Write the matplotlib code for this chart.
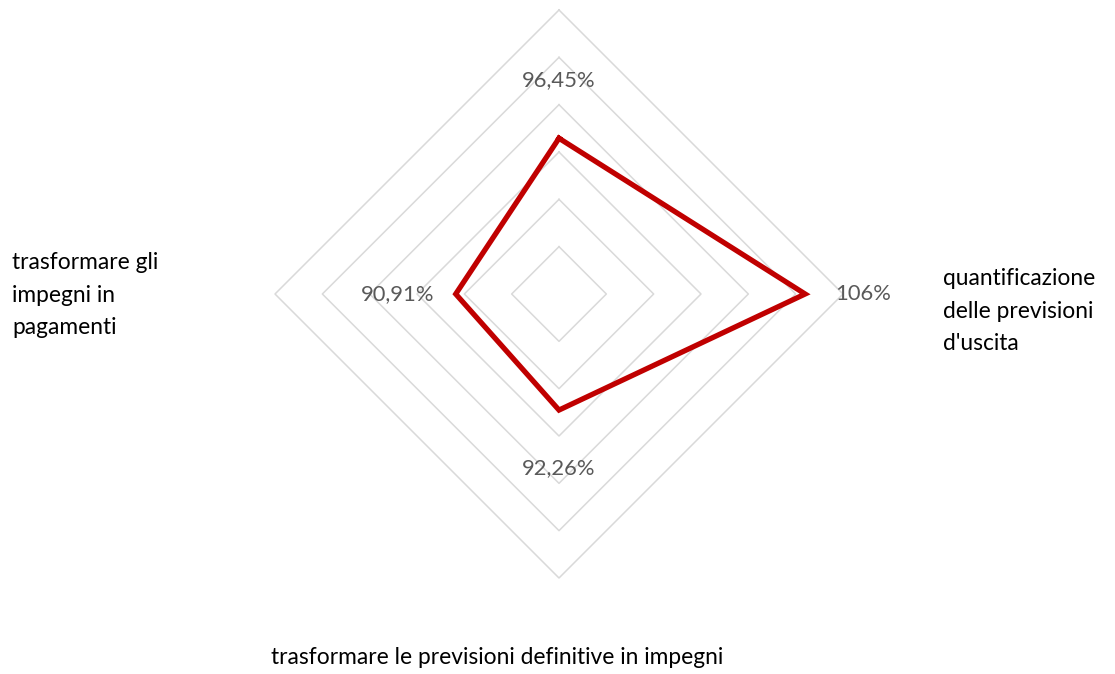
import numpy as np
import matplotlib
matplotlib.use("Agg")
import matplotlib.pyplot as plt

# radar chart: indicatori di capacita' di spesa
categories = ["",
              "quantificazione\ndelle previsioni\nd'uscita",
              "trasformare le previsioni definitive in impegni",
              "trasformare gli\nimpegni in\npagamenti"]
values = [96.45, 106, 92.26, 90.91]
value_labels = ["96,45%", "106%", "92,26%", "90,91%"]
r_min, r_max, r_step = 80, 110, 5

plt.rcParams['font.family'] = ['Lato', 'DejaVu Sans']

W, H, DPI = 1115, 674, 100
cx, cy, rad = 559, 294, 284  # centre and outer radius in pixels

fig = plt.figure(figsize=(W / DPI, H / DPI), dpi=DPI)
ax = fig.add_axes([0, 0, 1, 1])
ax.set_xlim(-cx / rad, (W - cx) / rad)
ax.set_ylim(-(H - cy) / rad, cy / rad)
ax.axis("off")

n = len(categories)
angles = np.pi / 2 - np.arange(n) * 2 * np.pi / n  # top, then clockwise


def to_xy(v, a):
    r = (np.asarray(v) - r_min) / (r_max - r_min)
    return r * np.cos(a), r * np.sin(a)


# grid rings
for level in np.arange(r_min + r_step, r_max + 0.1, r_step):
    gx, gy = to_xy(np.full(n + 1, level), np.append(angles, angles[0]))
    ax.plot(gx, gy, color="#D9D9D9", lw=1.1, zorder=1)

# data polygon
px, py = to_xy(np.append(values, values[0]), np.append(angles, angles[0]))
ax.plot(px, py, color="#C00000", lw=3.8, solid_joinstyle="miter", zorder=3)

# data labels
for v, a, lab in zip(values, angles, value_labels):
    x, y = to_xy(v, a)
    ax.annotate(lab, (x, y), xytext=(42 * np.cos(a), 42 * np.sin(a)),
                textcoords="offset points", ha="center", va="center",
                fontsize=15.8, color="#595959")

# category labels
ax.text((943 - cx) / rad, (cy - 311) / rad, categories[1], ha="left", va="center",
        fontsize=16.4, color="black", linespacing=1.65)
ax.text((497 - cx) / rad, (cy - 657) / rad, categories[2], ha="center", va="center",
        fontsize=16.4, color="black")
ax.text((12 - cx) / rad, (cy - 295) / rad, categories[3], ha="left", va="center",
        fontsize=16.4, color="black", linespacing=1.65)

fig.savefig("out.png", dpi=DPI)
